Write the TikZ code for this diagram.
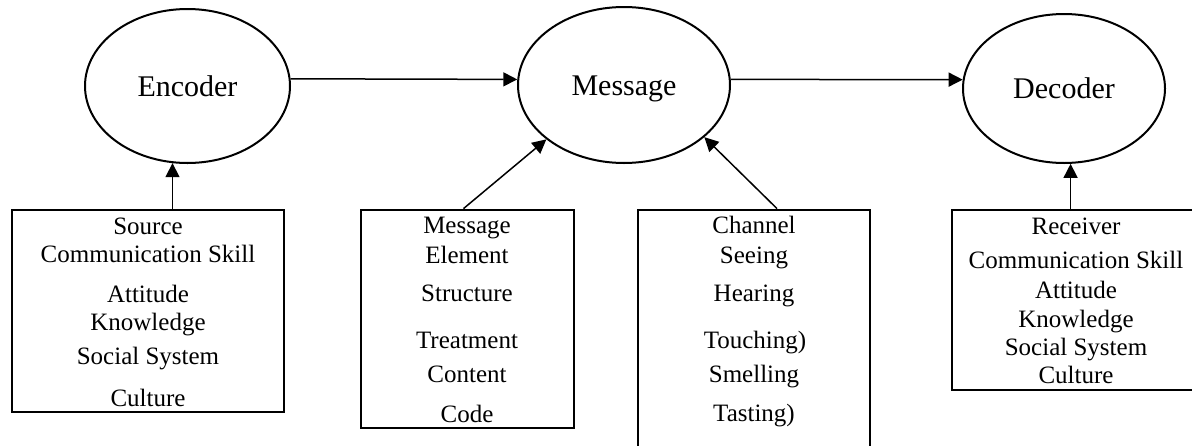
\documentclass[tikz,border=0pt]{standalone}
\usepackage{fontspec}
\setmainfont{Liberation Serif}
\usetikzlibrary{arrows.meta,shapes.geometric}
\begin{document}
\begin{tikzpicture}[x=1pt,y=-1pt,
  oval/.style={ellipse,draw,line width=2pt,inner sep=0pt,font=\fontsize{30}{32}\selectfont,text height=20pt,text depth=0pt},
  infobox/.style={rectangle,draw,line width=2.8pt,inner sep=0pt},
  line/.style={anchor=base,inner sep=0pt,font=\fontsize{25}{27}\selectfont},
  arr/.style={line width=1.5pt,-{Triangle[length=14pt,width=14pt]}}]
\useasboundingbox (0,0) rectangle (1192,445);
\clip (0,0) rectangle (1192,445);

% ovals
\node[oval,minimum width=205pt,minimum height=154pt] (enc) at (187.5,86) {Encoder};
\node[oval,minimum width=212pt,minimum height=156pt] (msg) at (624,85) {Message};
\node[oval,minimum width=202pt,minimum height=149pt] (dec) at (1064,88.5) {Decoder};

% boxes
\node[infobox,minimum width=272pt,minimum height=202pt] (src) at (148,311) {};
\node[infobox,minimum width=213pt,minimum height=218pt] (mbox) at (467.5,319) {};
\node[infobox,minimum width=232pt,minimum height=250pt] (cbox) at (754,335) {};
\node[infobox,minimum width=243pt,minimum height=180pt] (rbox) at (1073.5,300) {};

% source box text
\node[line] (s1) at (148,234) {Source};
\node[line] (s2) at (148,262) {Communication Skill};
\node[line] (s3) at (148,302) {Attitude};
\node[line] (s4) at (148,330) {Knowledge};
\node[line] (s5) at (148,364) {Social System};
\node[line] (s6) at (148,406) {Culture};

% message box text
\node[line] (m1) at (467,233) {Message};
\node[line] (m2) at (467,263) {Element};
\node[line] (m3) at (467,301) {Structure};
\node[line] (m4) at (467,348) {Treatment};
\node[line] (m5) at (467,382) {Content};
\node[line] (m6) at (467,422) {Code};

% channel box text
\node[line] (c1) at (754,233) {Channel};
\node[line] (c2) at (754,263) {Seeing};
\node[line] (c3) at (754,301) {Hearing};
\node[line] (c4) at (755,348) {Touching)};
\node[line] (c5) at (754,382) {Smelling};
\node[line] (c6) at (754,421) {Tasting)};

% receiver box text
\node[line] (r1) at (1076,234) {Receiver};
\node[line] (r2) at (1076,268) {Communication Skill};
\node[line] (r3) at (1076,298) {Attitude};
\node[line] (r4) at (1076,327) {Knowledge};
\node[line] (r5) at (1076,355) {Social System};
\node[line] (r6) at (1076,383) {Culture};

% connectors
\draw[arr] (enc.4) -- (msg.177);
\draw[arr] (msg.3) -- (dec.175);
\draw[arr] (enc.-101 |- src.north) -- (enc.-101);
\draw[arr] ([xshift=-4pt]mbox.north) -- (msg.215);
\draw[arr] ([xshift=23pt]cbox.north) -- (msg.-33);
\draw[arr] (dec.-85 |- rbox.north) -- (dec.-85);
\end{tikzpicture}
\end{document}
